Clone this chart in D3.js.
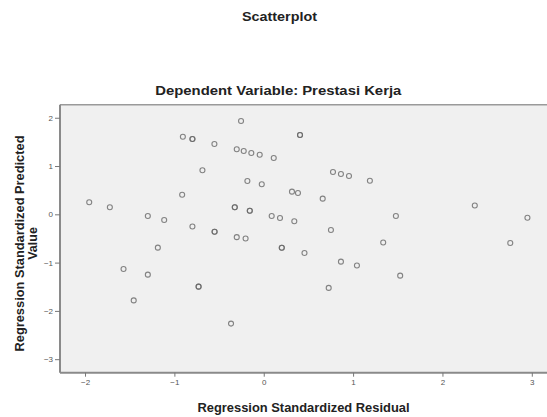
<!DOCTYPE html>
<html>
<head>
<meta charset="utf-8">
<script src="https://cdn.jsdelivr.net/npm/d3@7"></script>
<style>
html,body{margin:0;padding:0;background:#fff;}
svg{display:block;font-family:"Liberation Sans",Arial,sans-serif;}
</style>
</head>
<body>
<svg id="chart" width="547" height="417"></svg>
<script>
const residual = [-1.953,-1.722,-1.569,-1.455,-1.297,-1.297,-1.185,-1.114,-0.913,-0.905,-0.798,-0.798,-0.798,-0.729,-0.729,-0.686,-0.552,-0.550,-0.550,-0.366,-0.324,-0.324,-0.302,-0.302,-0.254,-0.224,-0.203,-0.183,-0.156,-0.156,-0.139,-0.045,-0.022,0.089,0.112,0.182,0.202,0.202,0.316,0.342,0.383,0.406,0.406,0.456,0.660,0.727,0.752,0.775,0.864,0.864,0.954,1.043,1.188,1.337,1.479,1.527,2.362,2.759,2.951];
const predicted = [0.249,0.146,-1.131,-1.783,-0.034,-1.249,-0.690,-0.117,0.406,1.607,1.559,1.559,-0.252,-1.498,-1.498,0.911,1.456,-0.361,-0.361,-2.263,0.146,0.146,1.346,-0.473,1.932,1.311,-0.500,0.690,0.075,0.075,1.269,1.234,0.622,-0.034,1.166,-0.076,-0.692,-0.692,0.469,-0.144,0.442,1.642,1.642,-0.800,0.324,-1.524,-0.324,0.876,0.835,-0.980,0.793,-1.059,0.696,-0.583,-0.034,-1.270,0.183,-0.593,-0.072];
const xTicks = [-2,-1,0,1,2,3];
const yTicks = [-3,-2,-1,0,1,2];

const svg = d3.select("#chart");
const pL = 60, pR = 547, pT = 104.7, pB = 372.7;
const x = d3.scaleLinear().domain([-2.28, 3.17]).range([pL, pR]);
const y = d3.scaleLinear().domain([-3.28, 2.27]).range([pB, pT]);

svg.append("rect").attr("x", pL).attr("y", pT)
  .attr("width", pR - pL).attr("height", pB - pT)
  .attr("fill", "#f0f0f0");
svg.append("line").attr("x1", pL).attr("x2", pR).attr("y1", pT).attr("y2", pT)
  .attr("stroke", "#9a9a9a").attr("stroke-width", 1.5);

const xAxis = svg.append("g").attr("transform", `translate(0,${pB})`)
  .call(d3.axisBottom(x).tickValues(xTicks).tickFormat(d3.format("d")).tickSize(4).tickPadding(3));
const yAxis = svg.append("g").attr("transform", `translate(${pL},0)`)
  .call(d3.axisLeft(y).tickValues(yTicks).tickFormat(d3.format("d")).tickSize(5).tickPadding(2));
[xAxis, yAxis].forEach(g => {
  g.select(".domain").attr("stroke", "#8a8a8a").attr("stroke-width", 2);
  g.selectAll(".tick line").attr("stroke", "#777").attr("stroke-width", 1);
  g.selectAll(".tick text").attr("fill", "#555").attr("font-size", 8)
    .attr("font-family", "'Liberation Sans',Arial,sans-serif");
});
xAxis.select(".domain").attr("d", `M${pL},0H${pR}`);
yAxis.select(".domain").attr("d", `M0,${pT}V${pB}`);

svg.append("g").selectAll("circle")
  .data(residual.map((r, i) => [r, predicted[i]]))
  .join("circle")
  .attr("cx", d => x(d[0])).attr("cy", d => y(d[1]))
  .attr("r", 2.5)
  .attr("fill", "none").attr("stroke", "#666").attr("stroke-width", 1.1)
  .attr("stroke-opacity", 0.8);

function title(txt, xx, yy, size, len) {
  return svg.append("text").attr("x", xx).attr("y", yy).attr("text-anchor", "middle")
    .attr("font-size", size).attr("font-weight", "bold").attr("fill", "#222")
    .attr("textLength", len).attr("lengthAdjust", "spacingAndGlyphs").text(txt);
}
title("Scatterplot", 279.5, 20.7, 13.5, 75);
title("Dependent Variable: Prestasi Kerja", 278.3, 94.5, 13.5, 246);
title("Regression Standardized Residual", 303.5, 411.5, 12.5, 212);
const yl = svg.append("g").attr("transform", "translate(0,243.5) rotate(-90)");
yl.append("text").attr("x", 0).attr("y", 23.5).attr("text-anchor", "middle")
  .attr("font-size", 12.5).attr("font-weight", "bold").attr("fill", "#222")
  .attr("textLength", 216).attr("lengthAdjust", "spacingAndGlyphs").text("Regression Standardized Predicted");
yl.append("text").attr("x", 0).attr("y", 36.5).attr("text-anchor", "middle")
  .attr("font-size", 12.5).attr("font-weight", "bold").attr("fill", "#222").text("Value");
</script>
</body>
</html>
